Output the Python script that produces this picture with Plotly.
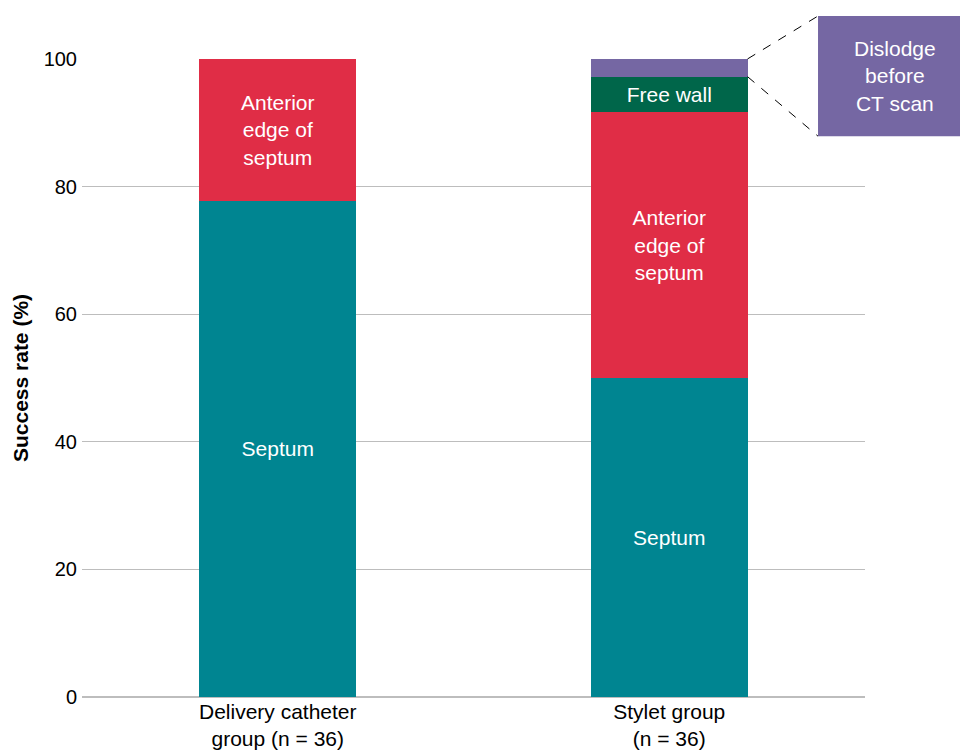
import plotly.graph_objects as go

categories = ["Delivery catheter<br>group (n = 36)", "Stylet group<br>(n = 36)"]
septum = [77.78, 50.0]
anterior = [22.22, 41.67]
free_wall = [0, 5.56]
dislodge = [0, 2.78]

FONT = "Liberation Sans, Arial, sans-serif"
teal = "#008591"
red = "#E02D46"
green = "#00664A"
purple = "#7567A3"
BW = 0.4
TS = 21

fig = go.Figure()
fig.add_bar(x=categories, y=septum, marker_color=teal, width=BW,
            text=["Septum", "Septum"], textposition="inside", insidetextanchor="middle",
            textfont=dict(color="white", size=TS, family=FONT), name="Septum")
fig.add_bar(x=categories, y=anterior, marker_color=red, width=BW,
            text=["Anterior<br>edge of<br>septum"] * 2, textposition="inside", insidetextanchor="middle",
            textfont=dict(color="white", size=TS, family=FONT), name="Anterior")
fig.add_bar(x=categories, y=free_wall, marker_color=green, width=BW,
            text=["", "Free wall"], textposition="inside", insidetextanchor="middle",
            textfont=dict(color="white", size=TS, family=FONT), name="Free wall")
fig.add_bar(x=categories, y=dislodge, marker_color=purple, width=BW,
            text=["", ""], textposition="none", name="Dislodge")

for tr in fig.data:
    tr.marker.line.width = 0
    tr.constraintext = "none"

# callout
idx = 1
top = septum[idx] + anterior[idx] + free_wall[idx] + dislodge[idx]
below = top - dislodge[idx]
bar_right = ((idx + BW / 2) + 0.5) / 2.0
box_x0, box_x1 = 0.94, 1.125
box_y0, box_y1 = 0.879, 1.0674
fig.add_shape(type="rect", xref="paper", yref="paper", x0=box_x0, x1=box_x1, y0=box_y0, y1=box_y1,
              fillcolor=purple, line_width=0, layer="above")
fig.add_shape(type="line", xref="paper", yref="paper", x0=bar_right, y0=top / 100, x1=box_x0, y1=box_y1,
              line=dict(color="black", width=1, dash="dash"))
fig.add_shape(type="line", xref="paper", yref="paper", x0=bar_right, y0=below / 100, x1=box_x0, y1=box_y0,
              line=dict(color="black", width=1, dash="dash"))
fig.add_annotation(xref="paper", yref="paper", x=1.038, y=(box_y0 + box_y1) / 2,
                   text="Dislodge<br>before<br>CT scan", showarrow=False,
                   font=dict(color="white", size=TS, family=FONT), xanchor="center", yanchor="middle")

fig.update_layout(
    barmode="stack", showlegend=False,
    width=960, height=752,
    margin=dict(l=82, r=95, t=59, b=55),
    plot_bgcolor="white", paper_bgcolor="white",
    font=dict(family=FONT, color="black"),
)
fig.update_yaxes(range=[0, 100], tickvals=[0, 20, 40, 60, 80, 100], showgrid=True,
                 gridcolor="#BDBDBD", gridwidth=1, zeroline=True, zerolinecolor="#BDBDBD",
                 tickfont=dict(size=20, family=FONT), ticks="", ticklabelstandoff=4, automargin=False,
                 title=dict(text="<b>Success rate (%)</b>", font=dict(size=21, family=FONT), standoff=9))
fig.update_xaxes(range=[-0.5, 1.5], tickfont=dict(size=21, family=FONT), showline=False, ticks="",
                 automargin=False)

fig.write_html("out.html")
